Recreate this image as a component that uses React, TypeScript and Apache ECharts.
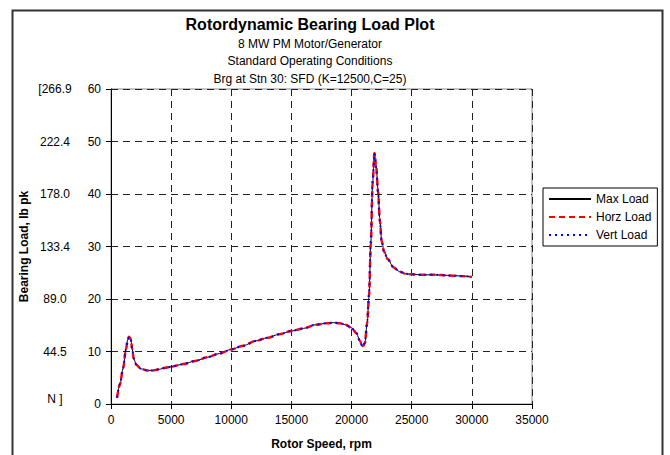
import React, { useEffect, useRef } from "react";
import * as echarts from "echarts";

const rpm = [500, 750, 1000, 1250, 1400, 1500, 1650, 1750, 1900, 2100, 2500, 3000, 3500, 4000, 4500, 5000, 6000, 7000, 8000, 9000, 10000, 11000, 12000, 13000, 14000, 15000, 16000, 17000, 18000, 18500, 19000, 19500, 20000, 20400, 20700, 20900, 21100, 21300, 21450, 21600, 21750, 21900, 22050, 22200, 22350, 22500, 22700, 23000, 23500, 24000, 24500, 25000, 26000, 27000, 28000, 29000, 30000];
const maxLoad = [1.2, 3.8, 6.8, 10.5, 12.4, 12.8, 12.3, 10.6, 8.6, 7.5, 6.7, 6.4, 6.4, 6.6, 6.9, 7.1, 7.6, 8.2, 8.9, 9.6, 10.4, 11.1, 12.0, 12.6, 13.3, 13.9, 14.4, 15.1, 15.4, 15.5, 15.4, 15.1, 14.5, 13.5, 12.0, 10.9, 11.5, 15.5, 20.5, 30.5, 42.0, 47.8, 45.3, 40.8, 35.3, 31.2, 29.1, 27.6, 26.0, 25.2, 24.8, 24.7, 24.6, 24.6, 24.5, 24.4, 24.2];
const horzLoad = [1.2, 3.8, 6.8, 10.5, 12.4, 12.8, 12.3, 10.6, 8.6, 7.5, 6.7, 6.4, 6.4, 6.6, 6.9, 7.1, 7.6, 8.2, 8.9, 9.6, 10.4, 11.1, 12.0, 12.6, 13.3, 13.9, 14.4, 15.1, 15.4, 15.5, 15.4, 15.1, 14.5, 13.5, 12.0, 10.9, 11.5, 15.5, 20.5, 30.5, 42.0, 47.8, 45.0, 40.5, 35.0, 31.0, 29.0, 27.6, 26.0, 25.2, 24.8, 24.7, 24.6, 24.6, 24.5, 24.4, 24.2];
const vertLoad = [1.2, 3.8, 6.8, 10.5, 12.4, 12.8, 12.3, 10.6, 8.6, 7.5, 6.7, 6.4, 6.4, 6.6, 6.9, 7.1, 7.6, 8.2, 8.9, 9.6, 10.4, 11.1, 12.0, 12.6, 13.3, 13.9, 14.4, 15.1, 15.4, 15.5, 15.4, 15.1, 14.5, 13.5, 12.0, 10.9, 11.6, 15.8, 21.0, 31.0, 42.5, 47.7, 45.0, 40.3, 34.8, 31.0, 29.0, 27.6, 26.0, 25.2, 24.8, 24.7, 24.6, 24.6, 24.5, 24.4, 24.2];
const newtonLabels = ["N ]", "44.5", "89.0", "133.4", "178.0", "222.4", "[266.9"];
const seriesNames = ["Max Load", "Horz Load", "Vert Load"];

const FONT = "Liberation Sans, Arial, sans-serif";

export default function App() {
  const ref = useRef<HTMLDivElement>(null);
  useEffect(() => {
    if (!ref.current) return;
    const chart = echarts.init(ref.current, undefined, { renderer: "svg" });
    const pairs = (ys: number[]) => rpm.map((x, i) => [x, ys[i]]);
    const gridLeft = 111, gridTop = 89, gridW = 421, gridH = 318;
    chart.setOption({
      animation: false,
      backgroundColor: "#fff",
      textStyle: { fontFamily: FONT },
      title: {
        text: "Rotordynamic Bearing Load Plot",
        subtext: "8 MW PM Motor/Generator\nStandard Operating Conditions\nBrg at Stn 30: SFD (K=12500,C=25)",
        left: 305,
        textAlign: "center",
        top: 11,
        itemGap: 3,
        textStyle: { fontFamily: FONT, fontSize: 16, fontWeight: "bold", color: "#000" },
        subtextStyle: { fontFamily: FONT, fontSize: 12, color: "#000", lineHeight: 17.5 },
      },
      legend: {
        orient: "vertical",
        left: 543,
        top: 188,
        itemWidth: 42,
        itemHeight: 14,
        itemGap: 6,
        padding: [5, 6, 5, 5],
        borderColor: "#000",
        borderWidth: 1,
        itemStyle: { color: "transparent", borderWidth: 0, opacity: 0 },
        textStyle: { fontFamily: FONT, fontSize: 12, color: "#000" },
        data: seriesNames,
      },
      grid: {
        left: gridLeft,
        top: gridTop,
        width: gridW,
        height: gridH,
        show: true,
        borderColor: "#888",
        borderWidth: 1,
        backgroundColor: "transparent",
      },
      xAxis: {
        type: "value",
        min: 0,
        max: 35000,
        interval: 5000,
        name: "Rotor Speed, rpm",
        nameLocation: "middle",
        nameGap: 34,
        nameTextStyle: { fontFamily: FONT, fontSize: 12, fontWeight: "bold", color: "#000" },
        axisLine: { show: true, onZero: false, lineStyle: { color: "#000", width: 1 } },
        axisTick: { show: true, inside: false, length: 5, lineStyle: { color: "#000" } },
        axisLabel: { margin: 10, fontFamily: FONT, fontSize: 12, color: "#000", formatter: (v: number) => String(v) },
        splitLine: { show: true, lineStyle: { color: "#222", type: [7, 5], width: 1 } },
      },
      yAxis: [
        {
          type: "value",
          min: 0,
          max: 60,
          interval: 10,
          name: "Bearing Load, lb pk",
          nameLocation: "middle",
          nameGap: 81,
          nameRotate: 90,
          nameTextStyle: { fontFamily: FONT, fontSize: 12, fontWeight: "bold", color: "#000" },
          axisLine: { show: true, lineStyle: { color: "#000", width: 1 } },
          axisTick: { show: true, inside: false, length: 5, lineStyle: { color: "#000" } },
          axisLabel: { margin: 10, fontFamily: FONT, fontSize: 12, color: "#000" },
          splitLine: { show: true, lineStyle: { color: "#222", type: [7, 5], width: 1 } },
        },
        {
          type: "value",
          min: 0,
          max: 60,
          interval: 10,
          position: "left",
          offset: 56,
          axisLine: { show: false },
          axisTick: { show: false },
          splitLine: { show: false },
          axisLabel: {
            margin: 0,
            align: "center",
            fontFamily: FONT,
            fontSize: 12,
            color: "#000",
            formatter: (v: number) => {
              const s = newtonLabels[Math.round(v / 10)] ?? "";
              return v === 0 ? "{n|" + s + "}" : s;
            },
            rich: { n: { fontFamily: FONT, fontSize: 12, color: "#000", padding: [0, 0, 10, 0] } },
          },
        },
      ],
      series: [
        {
          name: seriesNames[0],
          type: "line",
          data: pairs(maxLoad),
          showSymbol: false,
          symbol: "none",
          smooth: 0.3,
          smoothMonotone: "x",
          lineStyle: { color: "#000", width: 1, type: "solid" },
          itemStyle: { color: "#000" },
          z: 2,
        },
        {
          name: seriesNames[1],
          type: "line",
          data: pairs(horzLoad),
          showSymbol: false,
          symbol: "none",
          smooth: 0.3,
          smoothMonotone: "x",
          lineStyle: { color: "#ff0000", width: 2.5, type: [6, 4] },
          itemStyle: { color: "#ff0000" },
          z: 3,
        },
        {
          name: seriesNames[2],
          type: "line",
          data: pairs(vertLoad),
          showSymbol: false,
          symbol: "none",
          smooth: 0.3,
          smoothMonotone: "x",
          lineStyle: { color: "#0000ff", width: 2, type: [2, 4] },
          itemStyle: { color: "#0000ff" },
          z: 4,
        },
      ],
      graphic: [
        {
          type: "rect",
          left: 10,
          top: 8,
          shape: { width: 650, height: 470 },
          style: { fill: "none", stroke: "#333", lineWidth: 2 },
          silent: true,
        },
      ],
    });
    return () => chart.dispose();
  }, []);
  return <div ref={ref} style={{ position: "fixed", left: 0, top: 0, width: 670, height: 455 }} />;
}
